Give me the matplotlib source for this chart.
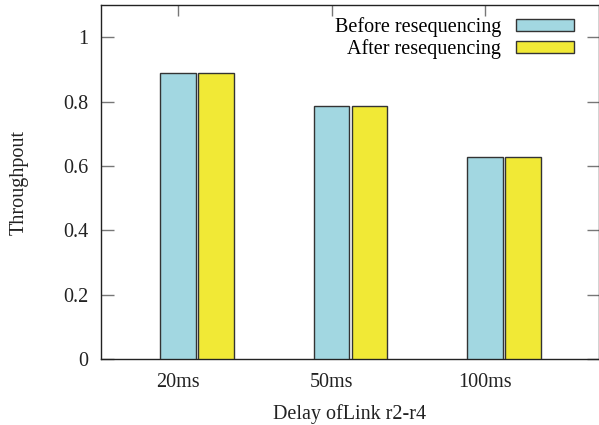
import matplotlib
matplotlib.use("Agg")
import matplotlib.pyplot as plt
import numpy as np

plt.rcParams['font.family'] = ['Liberation Serif', 'DejaVu Serif']

delays = ["20ms", "50ms", "100ms"]
before = [0.889, 0.786, 0.627]
after = [0.889, 0.786, 0.627]

fig = plt.figure(figsize=(5.99, 4.25), dpi=100)
ax = fig.add_axes([101 / 599, 1 - 359 / 425, 498 / 599, 354 / 425])

x = np.arange(len(delays))
width = 0.233
ax.bar(x, before, width, color="#a2d7e1", edgecolor="#333333", linewidth=1.0,
       label="Before resequencing", zorder=3)
ax.bar(x + 0.2476, after, width, color="#f1e936", edgecolor="#333333", linewidth=1.0,
       label="After resequencing", zorder=3)

ax.set_xlim(-0.502, 2.743)
ax.set_ylim(0, 1.1)
ax.set_xticks(x)
ax.set_xticklabels(delays)
ax.set_yticks([0, 0.2, 0.4, 0.6, 0.8, 1])
ax.set_yticklabels(["0", "0.2", "0.4", "0.6", "0.8", "1"])

ax.tick_params(axis="both", direction="in", length=9, width=1, color="#777777",
               labelsize=14.5, labelcolor="#222222", pad=9, top=True, right=True)
ax.tick_params(axis="x", length=8, pad=10)

for side in ["left", "bottom", "top", "right"]:
    ax.spines[side].set_color("#222222")
    ax.spines[side].set_linewidth(1.0)

ax.set_ylabel("Throughpout", fontsize=14.5, color="#222222", labelpad=25)
ax.set_xlabel("Delay ofLink r2-r4", fontsize=14.5, color="#222222", labelpad=9)

ax.legend(loc="upper right", markerfirst=False, frameon=False, fontsize=14.5,
          handlelength=2.9, handleheight=0.5, labelspacing=0.1,
          borderaxespad=0.2, handletextpad=0.75, bbox_to_anchor=(0.975, 1.0))

fig.savefig("out.png", dpi=100)
